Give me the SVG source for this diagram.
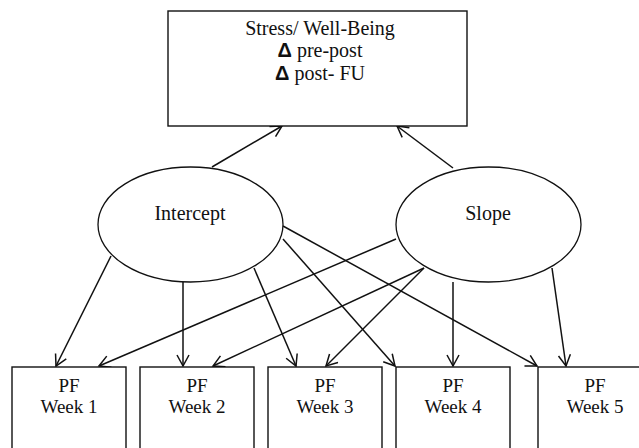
<svg xmlns="http://www.w3.org/2000/svg" width="639" height="448" viewBox="0 0 639 448">
<defs>
<style>
.box{fill:#fff;stroke:#111;stroke-width:1.4}
.ell{fill:#fff;stroke:#111;stroke-width:1.3}
.t{font-family:"Liberation Serif","Times New Roman",serif;font-size:20px;fill:#111;text-anchor:middle}
.tb{font-family:"Liberation Serif","Times New Roman",serif;font-size:19px;fill:#111;text-anchor:middle}
.d{font-family:"Liberation Sans",Arial,sans-serif;font-weight:bold}
.c{stroke:#111;stroke-width:1.5;fill:none;marker-end:url(#ah)}
</style>
<marker id="ah" markerUnits="userSpaceOnUse" markerWidth="15" markerHeight="15" refX="12" refY="7" orient="auto">
<path d="M1,1 L12,7 L1,13" fill="none" stroke="#111" stroke-width="1.5"/>
</marker>
</defs>
<rect width="639" height="448" fill="#fff"/>
<g id="connectors">
<line class="c" x1="212" y1="167" x2="282" y2="126"/>
<line class="c" x1="453" y1="168" x2="397" y2="126"/>
<line class="c" x1="111" y1="256" x2="56" y2="366"/>
<line class="c" x1="183" y1="282" x2="183" y2="366"/>
<line class="c" x1="254" y1="268" x2="296" y2="366"/>
<line class="c" x1="283" y1="239" x2="395" y2="366"/>
<line class="c" x1="283" y1="226" x2="537" y2="366"/>
<line class="c" x1="396" y1="239" x2="99" y2="366"/>
<line class="c" x1="424" y1="268" x2="213" y2="366"/>
<line class="c" x1="424" y1="268" x2="326" y2="366"/>
<line class="c" x1="453" y1="282" x2="453" y2="366"/>
<line class="c" x1="552" y1="268" x2="566" y2="366"/>
</g>
<g id="stress">
<rect class="box" x="168" y="11" width="299" height="115"/>
<text class="t" x="320" y="35">Stress/ Well-Being</text>
<text class="t" x="320" y="57"><tspan class="d">Δ</tspan> pre-post</text>
<text class="t" x="320" y="80"><tspan class="d">Δ</tspan> post- FU</text>
</g>
<g id="intercept">
<ellipse class="ell" cx="190.5" cy="224.5" rx="92.5" ry="57.5"/>
<text class="t" x="190" y="220">Intercept</text>
</g>
<g id="slope">
<ellipse class="ell" cx="488.5" cy="224.5" rx="92.5" ry="57.5"/>
<text class="t" x="488" y="220">Slope</text>
</g>
<g id="week1">
<rect class="box" x="12" y="367" width="114" height="100"/>
<text class="tb" x="69" y="392">PF</text>
<text class="tb" x="69" y="413">Week 1</text>
</g>
<g id="week2">
<rect class="box" x="140" y="367" width="114" height="100"/>
<text class="tb" x="197" y="392">PF</text>
<text class="tb" x="197" y="413">Week 2</text>
</g>
<g id="week3">
<rect class="box" x="268" y="367" width="114" height="100"/>
<text class="tb" x="325" y="392">PF</text>
<text class="tb" x="325" y="413">Week 3</text>
</g>
<g id="week4">
<rect class="box" x="396" y="367" width="114" height="100"/>
<text class="tb" x="453" y="392">PF</text>
<text class="tb" x="453" y="413">Week 4</text>
</g>
<g id="week5">
<rect class="box" x="538" y="367" width="114" height="100"/>
<text class="tb" x="595" y="392">PF</text>
<text class="tb" x="595" y="413">Week 5</text>
</g>
</svg>
